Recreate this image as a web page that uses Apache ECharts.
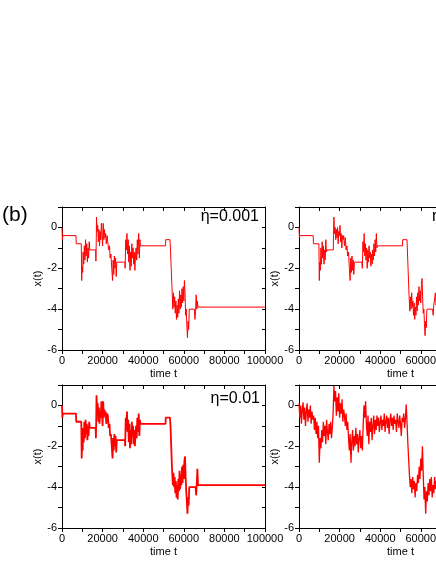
<!DOCTYPE html>
<html>
<head>
<meta charset="utf-8">
<title>x(t) trajectories</title>
<script src="https://cdn.jsdelivr.net/npm/echarts/dist/echarts.min.js"></script>
<style>
  html, body { margin: 0; padding: 0; background: #fff; }
  #chart { width: 436px; height: 564px; }
</style>
</head>
<body>
<div id="chart"></div>
<script>
// panel labels
var panelTag = '(b)';
var etaLabels = ['η=0.001', 'η=0.005', 'η=0.01', ''];

// axis ticks
var timeMax = 100000;
var timeStep = 10000;
var xMin = -6;
var xMax = 1;

// trajectories: [time t, x(t)]
var runEta001 = [[0,0],[200,-0.6],[400,-0.4],[6900,-0.4],[7000,-0.8],[9500,-0.8],[9700,-2.6],[9900,-1.9],[10200,-2.2],[10400,-1.2],[10700,-1.8],[11000,-0.9],[11300,-1.6],[11600,-0.6],[11900,-1.4],[12200,-0.8],[12500,-1.7],[12800,-1.0],[13100,-1.5],[13400,-0.7],[13700,-1.1],[16600,-1.1],[16700,-1.65],[16900,-0.5],[17000,0.5],[17300,-0.2],[17600,0.1],[17900,-0.7],[18200,-0.1],[18500,-0.9],[18800,-0.2],[19100,-0.6],[19400,0.2],[19700,-0.4],[20000,-0.9],[20300,0.2],[20600,-0.6],[20900,-0.1],[21200,-0.5],[21500,-0.3],[21800,-0.8],[22200,-0.4],[22600,-0.4],[23000,-1.1],[23400,-0.9],[23700,-1.5],[24100,-1.3],[24500,-2.0],[24900,-2.6],[25200,-1.6],[25500,-2.3],[25800,-1.4],[26100,-2.0],[26400,-1.5],[26700,-2.4],[27000,-1.7],[31000,-1.7],[31100,-2.0],[31400,-0.6],[31700,-1.1],[32000,-0.3],[32300,-1.3],[32600,-0.6],[32900,-1.7],[33200,-0.9],[33500,-2.1],[33800,-1.2],[34100,-1.9],[34400,-0.8],[34700,-1.5],[35000,-1.0],[35300,-1.8],[35600,-1.2],[35900,-2.1],[36200,-1.4],[36500,-1.0],[36800,-1.6],[37100,-0.6],[37400,-1.3],[37800,-0.3],[38100,-1.5],[38400,-0.6],[38600,-0.9],[51000,-0.9],[51100,-0.6],[53200,-0.6],[53500,-1.2],[53800,-2.0],[54200,-3.0],[54600,-4.0],[54900,-3.2],[55200,-3.9],[55500,-3.4],[55800,-4.2],[56100,-3.6],[56400,-4.5],[56700,-3.8],[57000,-4.4],[57300,-3.5],[57600,-4.2],[57900,-3.1],[58200,-4.0],[58500,-3.3],[58800,-3.9],[59100,-3.0],[59400,-3.7],[59700,-2.9],[60000,-3.6],[60300,-2.6],[60600,-3.2],[60900,-4.3],[61200,-4.0],[61500,-4.8],[61800,-5.4],[62100,-4.6],[62400,-5.0],[62700,-4.0],[65200,-4.0],[65500,-4.5],[65800,-4.1],[66100,-3.3],[66400,-4.0],[66700,-3.6],[67000,-3.9],[100000,-3.9]];

var runEta005 = [[0,0],[200,-0.5],[400,-0.4],[7000,-0.4],[7100,-0.8],[9800,-0.8],[10000,-2.6],[10200,-1.7],[10500,-2.1],[10800,-1.0],[11100,-1.8],[11400,-0.7],[11700,-1.5],[12000,-0.9],[12300,-1.8],[12600,-1.1],[12900,-1.6],[13200,-0.6],[13500,-1.2],[13800,-1.1],[16900,-1.1],[17000,-0.4],[17200,0.5],[17500,-0.3],[17800,0.0],[18100,-0.6],[18400,-0.1],[18700,-0.5],[19000,0.0],[19300,-0.8],[19600,-0.2],[19900,-0.4],[20200,0.1],[20500,-0.7],[20800,-0.3],[21100,-1.0],[21400,-0.4],[21700,-0.6],[22000,-0.4],[22400,-0.9],[22800,-0.5],[23200,-1.1],[23600,-0.9],[24000,-1.4],[24400,-1.2],[24800,-2.0],[25200,-2.6],[25500,-1.5],[25800,-2.2],[26100,-1.4],[26400,-2.1],[26700,-1.6],[27000,-2.3],[27300,-1.7],[31000,-1.7],[31200,-2.0],[31500,-0.7],[31800,-1.2],[32100,-0.3],[32400,-1.4],[32700,-0.8],[33000,-1.6],[33300,-1.0],[33600,-2.0],[33900,-1.1],[34200,-1.7],[34500,-0.9],[34800,-1.5],[35100,-1.2],[35400,-1.9],[35700,-1.3],[36000,-1.8],[36300,-1.1],[36600,-1.6],[36900,-0.8],[37200,-1.4],[37500,-0.6],[37800,-1.2],[38100,-0.3],[38400,-1.0],[38700,-0.9],[51000,-0.9],[51100,-0.6],[53200,-0.6],[53500,-1.4],[53800,-2.2],[54200,-3.3],[54600,-4.1],[54900,-3.4],[55200,-4.0],[55500,-3.2],[55800,-3.9],[56100,-3.6],[56400,-4.3],[56700,-3.7],[57000,-4.5],[57300,-3.9],[57600,-4.3],[57900,-3.4],[58200,-4.1],[58500,-3.2],[58800,-3.8],[59100,-2.9],[59400,-3.6],[59700,-3.1],[60000,-3.7],[60300,-2.8],[60600,-2.5],[60900,-3.4],[61200,-4.2],[61500,-4.0],[61800,-4.7],[62100,-5.3],[62400,-4.6],[62700,-4.9],[63000,-4.0],[65800,-4.0],[66100,-4.3],[66400,-3.8],[66800,-3.5],[67200,-3.2],[67500,-3.8],[68000,-3.6]];

var runEta01 = [[0,0],[200,-0.6],[400,-0.4],[6900,-0.4],[7000,-0.8],[9500,-0.8],[9700,-2.6],[9900,-1.8],[10200,-2.2],[10400,-1.1],[10700,-1.8],[11000,-0.8],[11300,-1.6],[11600,-0.7],[11900,-1.4],[12200,-0.9],[12500,-1.7],[12800,-1.0],[13100,-1.5],[13400,-0.8],[13700,-1.1],[16600,-1.1],[16700,-1.6],[16900,-0.4],[17000,0.5],[17300,-0.2],[17600,0.1],[17900,-0.8],[18200,-0.1],[18500,-0.9],[18800,-0.3],[19100,-0.6],[19400,0.2],[19700,-0.4],[20000,-1.0],[20300,0.2],[20600,-0.6],[20900,-0.2],[21200,-0.5],[21500,-0.3],[21800,-0.9],[22200,-0.4],[22600,-0.5],[23000,-1.1],[23400,-0.9],[23700,-1.5],[24100,-1.4],[24500,-2.0],[24900,-2.6],[25200,-1.6],[25500,-2.2],[25800,-1.4],[26100,-2.0],[26400,-1.5],[26700,-2.3],[27000,-1.7],[31000,-1.7],[31100,-2.0],[31400,-0.6],[31700,-1.2],[32000,-0.3],[32300,-1.3],[32600,-0.7],[32900,-1.8],[33200,-0.9],[33500,-2.1],[33800,-1.2],[34100,-1.9],[34400,-0.8],[34700,-1.5],[35000,-1.0],[35300,-1.9],[35600,-1.2],[35900,-2.0],[36200,-1.4],[36500,-1.0],[36800,-1.6],[37100,-0.6],[37400,-1.3],[37800,-0.4],[38100,-1.5],[38400,-0.7],[38600,-0.9],[51000,-0.9],[51100,-0.6],[53200,-0.6],[53500,-1.1],[53800,-2.0],[54200,-3.1],[54600,-3.9],[54900,-3.3],[55200,-4.0],[55500,-3.5],[55800,-4.3],[56100,-3.7],[56400,-4.5],[56700,-3.9],[57000,-4.6],[57300,-3.6],[57600,-4.2],[57900,-3.2],[58200,-4.1],[58500,-3.4],[58800,-3.9],[59100,-3.0],[59400,-3.8],[59700,-2.9],[60000,-3.6],[60300,-2.7],[60600,-2.5],[60900,-3.5],[61200,-4.2],[61500,-4.7],[61800,-5.3],[62100,-4.5],[62400,-4.9],[62700,-4.0],[65800,-4.0],[66100,-4.4],[66400,-3.8],[66700,-3.1],[67000,-3.9],[100000,-3.9]];

var runEtaNoisy = [[0,0.1],[400,-0.6],[800,0.0],[1200,-0.9],[1600,-0.2],[2000,0.15],[2400,-0.7],[2800,-0.1],[3200,-1.0],[3600,-0.3],[4000,0.1],[4400,-0.8],[4800,-0.2],[5200,-0.6],[5600,0.0],[6000,-0.9],[6400,-0.3],[6800,-0.7],[7200,-0.5],[7600,-1.2],[8000,-0.6],[8400,-1.4],[8800,-0.8],[9200,-1.6],[9600,-1.0],[10000,-2.8],[10400,-1.6],[10800,-2.1],[11200,-1.2],[11600,-1.8],[12000,-0.8],[12400,-1.5],[12800,-1.0],[13200,-1.9],[13600,-0.7],[14000,-1.3],[14400,-1.7],[14800,-0.9],[15200,-1.4],[15600,-0.8],[16000,-1.6],[16400,-1.1],[16800,-0.4],[17200,0.95],[17600,0.2],[18000,0.7],[18400,-0.5],[18800,0.4],[19200,-0.3],[19600,0.6],[20000,-0.6],[20400,0.1],[20800,-0.4],[21200,0.3],[21600,-0.8],[22000,-0.2],[22400,-0.5],[22800,-1.0],[23200,-0.4],[23600,-1.2],[24000,-0.8],[24400,-1.6],[24800,-2.2],[25200,-1.4],[25600,-2.8],[26000,-1.8],[26400,-1.2],[26800,-2.2],[27200,-1.5],[27600,-2.0],[28000,-1.1],[28400,-1.9],[28800,-1.4],[29200,-2.3],[29600,-1.6],[30000,-1.2],[30400,-2.1],[30800,-1.5],[31200,-2.2],[31600,-1.0],[32000,0.0],[32400,-0.6],[32800,0.2],[33200,-0.9],[33600,-1.5],[34000,-0.5],[34400,-1.9],[34800,-0.8],[35200,-1.3],[35600,-0.6],[36000,-1.7],[36400,-1.0],[36800,-0.5],[37200,-1.4],[37600,-0.7],[38000,-1.2],[38400,-0.5],[38800,-1.0],[39200,-0.6],[39600,-1.3],[40000,-0.8],[40400,-0.5],[40800,-1.2],[41200,-0.7],[41600,-1.0],[42000,-0.4],[42400,-1.3],[42800,-0.8],[43200,-0.5],[43600,-1.1],[44000,-0.6],[44400,-1.4],[44800,-0.7],[45200,-0.4],[45600,-1.0],[46000,-0.6],[46400,-1.2],[46800,-0.5],[47200,-0.9],[47600,-0.7],[48000,-1.3],[48400,-0.4],[48800,-0.8],[49200,-1.1],[49600,-0.5],[50000,-0.9],[50400,-1.5],[50800,-0.6],[51200,-0.8],[51600,-0.4],[52000,-1.1],[52400,-0.7],[52800,0.05],[53200,-0.8],[53600,-1.8],[54000,-2.6],[54400,-3.4],[54800,-4.0],[55200,-3.6],[55600,-4.3],[56000,-3.5],[56400,-4.1],[56800,-3.7],[57200,-4.5],[57600,-3.8],[58000,-4.2],[58400,-3.4],[58800,-3.8],[59200,-3.0],[59600,-3.6],[60000,-2.6],[60400,-3.2],[60800,-2.0],[61200,-3.4],[61600,-4.6],[62000,-4.0],[62400,-5.3],[62800,-4.2],[63200,-4.7],[63600,-3.8],[64000,-4.4],[64400,-3.6],[64800,-4.2],[65200,-3.5],[65600,-4.5],[66000,-3.9],[66400,-4.3],[66800,-3.5],[67200,-4.1],[67600,-3.7],[68000,-4.4]];

var runs = [runEta001, runEta005, runEta01, runEtaNoisy];
var lineWidths = [1, 1, 1.8, 1.3];

var chart = echarts.init(document.getElementById('chart'));
var font = 'Liberation Sans, Arial, Helvetica, sans-serif';

var panels = [
  { left: 62, top: 207 },
  { left: 299, top: 207 },
  { left: 62, top: 385 },
  { left: 299, top: 385 }
];
var panelW = 203;
var panelH = 143;

var grid = [], xAxis = [], yAxis = [], series = [], graphic = [];
var axisLine = { show: true, onZero: false, lineStyle: { color: '#000', width: 1 } };

panels.forEach(function (p, i) {
  grid.push({
    left: p.left, top: p.top, width: panelW, height: panelH,
    containLabel: false, outerBoundsMode: 'none'
  });

  // bottom time axis
  xAxis.push({
    type: 'value', gridIndex: i, position: 'bottom',
    min: 0, max: timeMax, interval: timeStep,
    name: 'time t', nameLocation: 'middle', nameGap: 18,
    nameTextStyle: { fontFamily: font, fontSize: 11, color: '#000' },
    axisLine: axisLine,
    axisTick: { show: true, inside: false, length: 4, lineStyle: { color: '#000' } },
    axisLabel: {
      fontFamily: font, fontSize: 11, color: '#000', margin: 5,
      formatter: function (v) { return v % 20000 === 0 ? String(v) : ''; }
    },
    splitLine: { show: false }
  });
  // top mirror
  xAxis.push({
    type: 'value', gridIndex: i, position: 'top',
    min: 0, max: timeMax, interval: timeStep,
    axisLine: axisLine,
    axisTick: { show: true, inside: true, length: 4, lineStyle: { color: '#000' } },
    axisLabel: { show: false },
    splitLine: { show: false }
  });
  // left x(t) axis
  yAxis.push({
    type: 'value', gridIndex: i, position: 'left',
    min: xMin, max: xMax, interval: 1,
    name: 'x(t)', nameLocation: 'middle', nameGap: 17,
    nameTextStyle: { fontFamily: font, fontSize: 11, color: '#000' },
    axisLine: axisLine,
    axisTick: { show: true, inside: false, length: 4, lineStyle: { color: '#000' } },
    axisLabel: {
      fontFamily: font, fontSize: 11, color: '#000', margin: 5,
      formatter: function (v) { return v % 2 === 0 ? String(v) : ''; }
    },
    splitLine: { show: false }
  });
  // right mirror
  yAxis.push({
    type: 'value', gridIndex: i, position: 'right',
    min: xMin, max: xMax, interval: 1,
    axisLine: axisLine,
    axisTick: { show: true, inside: true, length: 3, lineStyle: { color: '#000' } },
    axisLabel: { show: false },
    splitLine: { show: false }
  });

  series.push({
    type: 'line', xAxisIndex: 2 * i, yAxisIndex: 2 * i,
    data: runs[i], showSymbol: false, symbol: 'none',
    lineStyle: { color: '#ff0000', width: lineWidths[i] },
    clip: true, silent: true
  });

  if (etaLabels[i]) {
    var labelPos = [
      { right: 177, top: 209 },
      { left: 432, top: 209 },
      { right: 176, top: 391 }
    ][i];
    graphic.push({
      type: 'text', left: labelPos.left, right: labelPos.right, top: labelPos.top,
      style: { text: etaLabels[i], font: '16px ' + font, fill: '#000' }
    });
  }
});

graphic.push({
  type: 'text', left: 2, top: 205,
  style: { text: panelTag, font: '21px ' + font, fill: '#000' }
});

chart.setOption({
  animation: false,
  backgroundColor: '#fff',
  grid: grid,
  xAxis: xAxis,
  yAxis: yAxis,
  series: series,
  graphic: graphic
});
</script>
</body>
</html>
